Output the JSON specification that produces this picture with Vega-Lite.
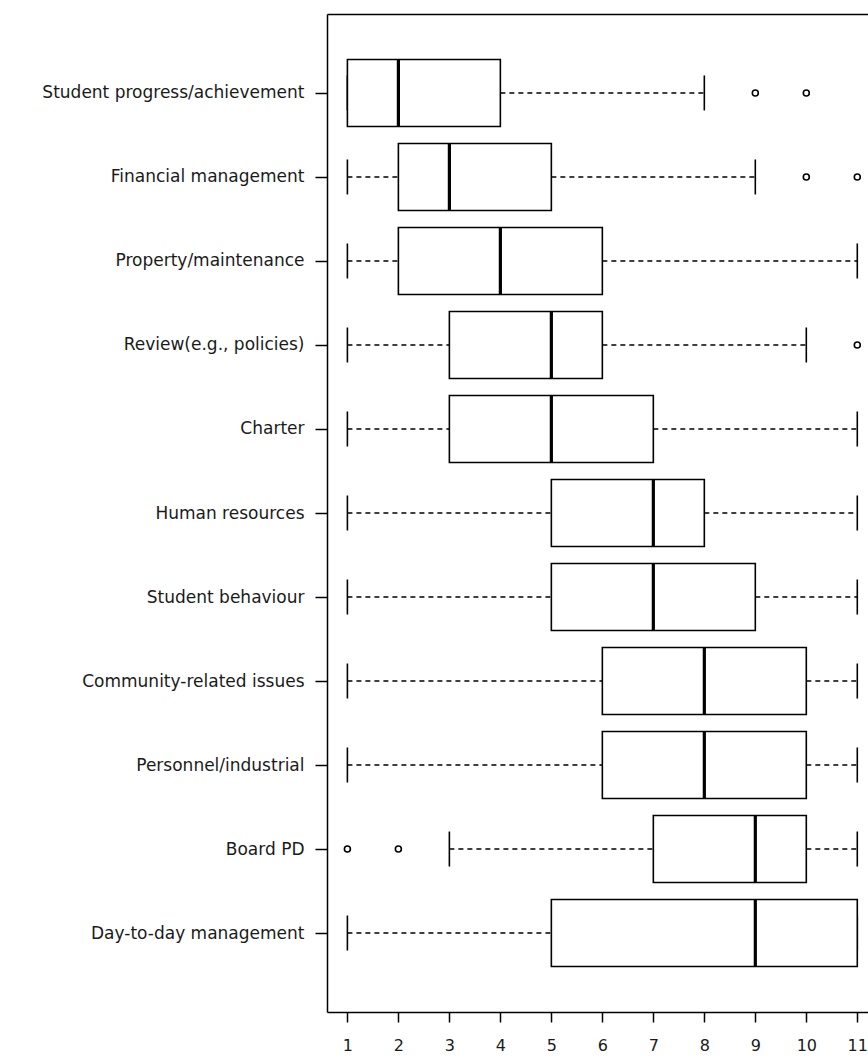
{
  "$schema": "https://vega.github.io/schema/vega-lite/v6.json",
  "autosize": "none",
  "width": 541,
  "height": 998,
  "padding": {"left": 327, "top": 14, "right": 0, "bottom": 44},
  "background": "white",
  "config": {
    "view": {"stroke": null},
    "axis": {
      "domainColor": "black",
      "domainWidth": 1.5,
      "tickColor": "black",
      "tickWidth": 1.5,
      "labelColor": "#1a1a1a",
      "labelFont": "DejaVu Sans",
      "grid": false,
      "title": null
    }
  },
  "datasets": {
    "boxes": [
      {"topic": "Student progress/achievement", "lo": 1, "q1": 1, "med": 2, "q3": 4, "hi": 8},
      {"topic": "Financial management", "lo": 1, "q1": 2, "med": 3, "q3": 5, "hi": 9},
      {"topic": "Property/maintenance", "lo": 1, "q1": 2, "med": 4, "q3": 6, "hi": 11},
      {"topic": "Review(e.g., policies)", "lo": 1, "q1": 3, "med": 5, "q3": 6, "hi": 10},
      {"topic": "Charter", "lo": 1, "q1": 3, "med": 5, "q3": 7, "hi": 11},
      {"topic": "Human resources", "lo": 1, "q1": 5, "med": 7, "q3": 8, "hi": 11},
      {"topic": "Student behaviour", "lo": 1, "q1": 5, "med": 7, "q3": 9, "hi": 11},
      {"topic": "Community-related issues", "lo": 1, "q1": 6, "med": 8, "q3": 10, "hi": 11},
      {"topic": "Personnel/industrial", "lo": 1, "q1": 6, "med": 8, "q3": 10, "hi": 11},
      {"topic": "Board PD", "lo": 3, "q1": 7, "med": 9, "q3": 10, "hi": 11},
      {"topic": "Day-to-day management", "lo": 1, "q1": 5, "med": 9, "q3": 11, "hi": 11}
    ],
    "outliers": [
      {"topic": "Student progress/achievement", "value": 9},
      {"topic": "Student progress/achievement", "value": 10},
      {"topic": "Financial management", "value": 10},
      {"topic": "Financial management", "value": 11},
      {"topic": "Review(e.g., policies)", "value": 11},
      {"topic": "Board PD", "value": 1},
      {"topic": "Board PD", "value": 2}
    ]
  },
  "encoding": {
    "y": {
      "field": "topic",
      "type": "nominal",
      "scale": {
        "type": "point",
        "padding": 0.94,
        "domain": [
          "Student progress/achievement",
          "Financial management",
          "Property/maintenance",
          "Review(e.g., policies)",
          "Charter",
          "Human resources",
          "Student behaviour",
          "Community-related issues",
          "Personnel/industrial",
          "Board PD",
          "Day-to-day management"
        ]
      },
      "axis": {
        "orient": "left",
        "domain": true,
        "ticks": true,
        "tickSize": 12,
        "labelPadding": 11,
        "labelFontSize": 17,
        "labelLimit": 330
      }
    }
  },
  "resolve": {"axis": {"x": "independent"}},
  "layer": [
    {
      "data": {"name": "boxes"},
      "mark": {"type": "rule", "color": "black", "strokeWidth": 1.4, "strokeDash": [5, 4]},
      "encoding": {
        "x": {
          "field": "lo",
          "type": "quantitative",
          "scale": {"domain": [0.6, 11.21], "nice": false, "zero": false},
          "axis": {
            "orient": "bottom",
            "values": [1, 2, 3, 4, 5, 6, 7, 8, 9, 10, 11],
            "domain": true,
            "ticks": true,
            "tickSize": 10,
            "labelPadding": 15,
            "labelFontSize": 16,
            "labelFlush": false,
            "labelOverlap": false
          }
        },
        "x2": {"field": "q1"}
      }
    },
    {
      "data": {"name": "boxes"},
      "mark": {"type": "rule", "color": "black", "strokeWidth": 1.4, "strokeDash": [5, 4]},
      "encoding": {
        "x": {"field": "q3", "type": "quantitative", "axis": null},
        "x2": {"field": "hi"}
      }
    },
    {
      "data": {"name": "boxes"},
      "mark": {"type": "tick", "color": "black", "opacity": 1, "size": 35, "thickness": 1.6, "orient": "vertical"},
      "encoding": {
        "x": {"field": "lo", "type": "quantitative", "axis": null}
      }
    },
    {
      "data": {"name": "boxes"},
      "mark": {"type": "tick", "color": "black", "opacity": 1, "size": 35, "thickness": 1.6, "orient": "vertical"},
      "encoding": {
        "x": {"field": "hi", "type": "quantitative", "axis": null}
      }
    },
    {
      "data": {"name": "boxes"},
      "mark": {"type": "bar", "fill": "white", "stroke": "black", "strokeWidth": 1.6, "size": 67},
      "encoding": {
        "x": {
          "field": "q1",
          "type": "quantitative",
          "axis": {
            "orient": "top",
            "domain": true,
            "ticks": false,
            "labels": false
          }
        },
        "x2": {"field": "q3"}
      }
    },
    {
      "data": {"name": "boxes"},
      "mark": {"type": "tick", "color": "black", "opacity": 1, "size": 67, "thickness": 3.2, "orient": "vertical"},
      "encoding": {
        "x": {"field": "med", "type": "quantitative", "axis": null}
      }
    },
    {
      "data": {"name": "outliers"},
      "mark": {"type": "point", "shape": "circle", "filled": false, "color": "black", "opacity": 1, "size": 36, "strokeWidth": 1.6},
      "encoding": {
        "x": {"field": "value", "type": "quantitative", "axis": null}
      }
    }
  ]
}
